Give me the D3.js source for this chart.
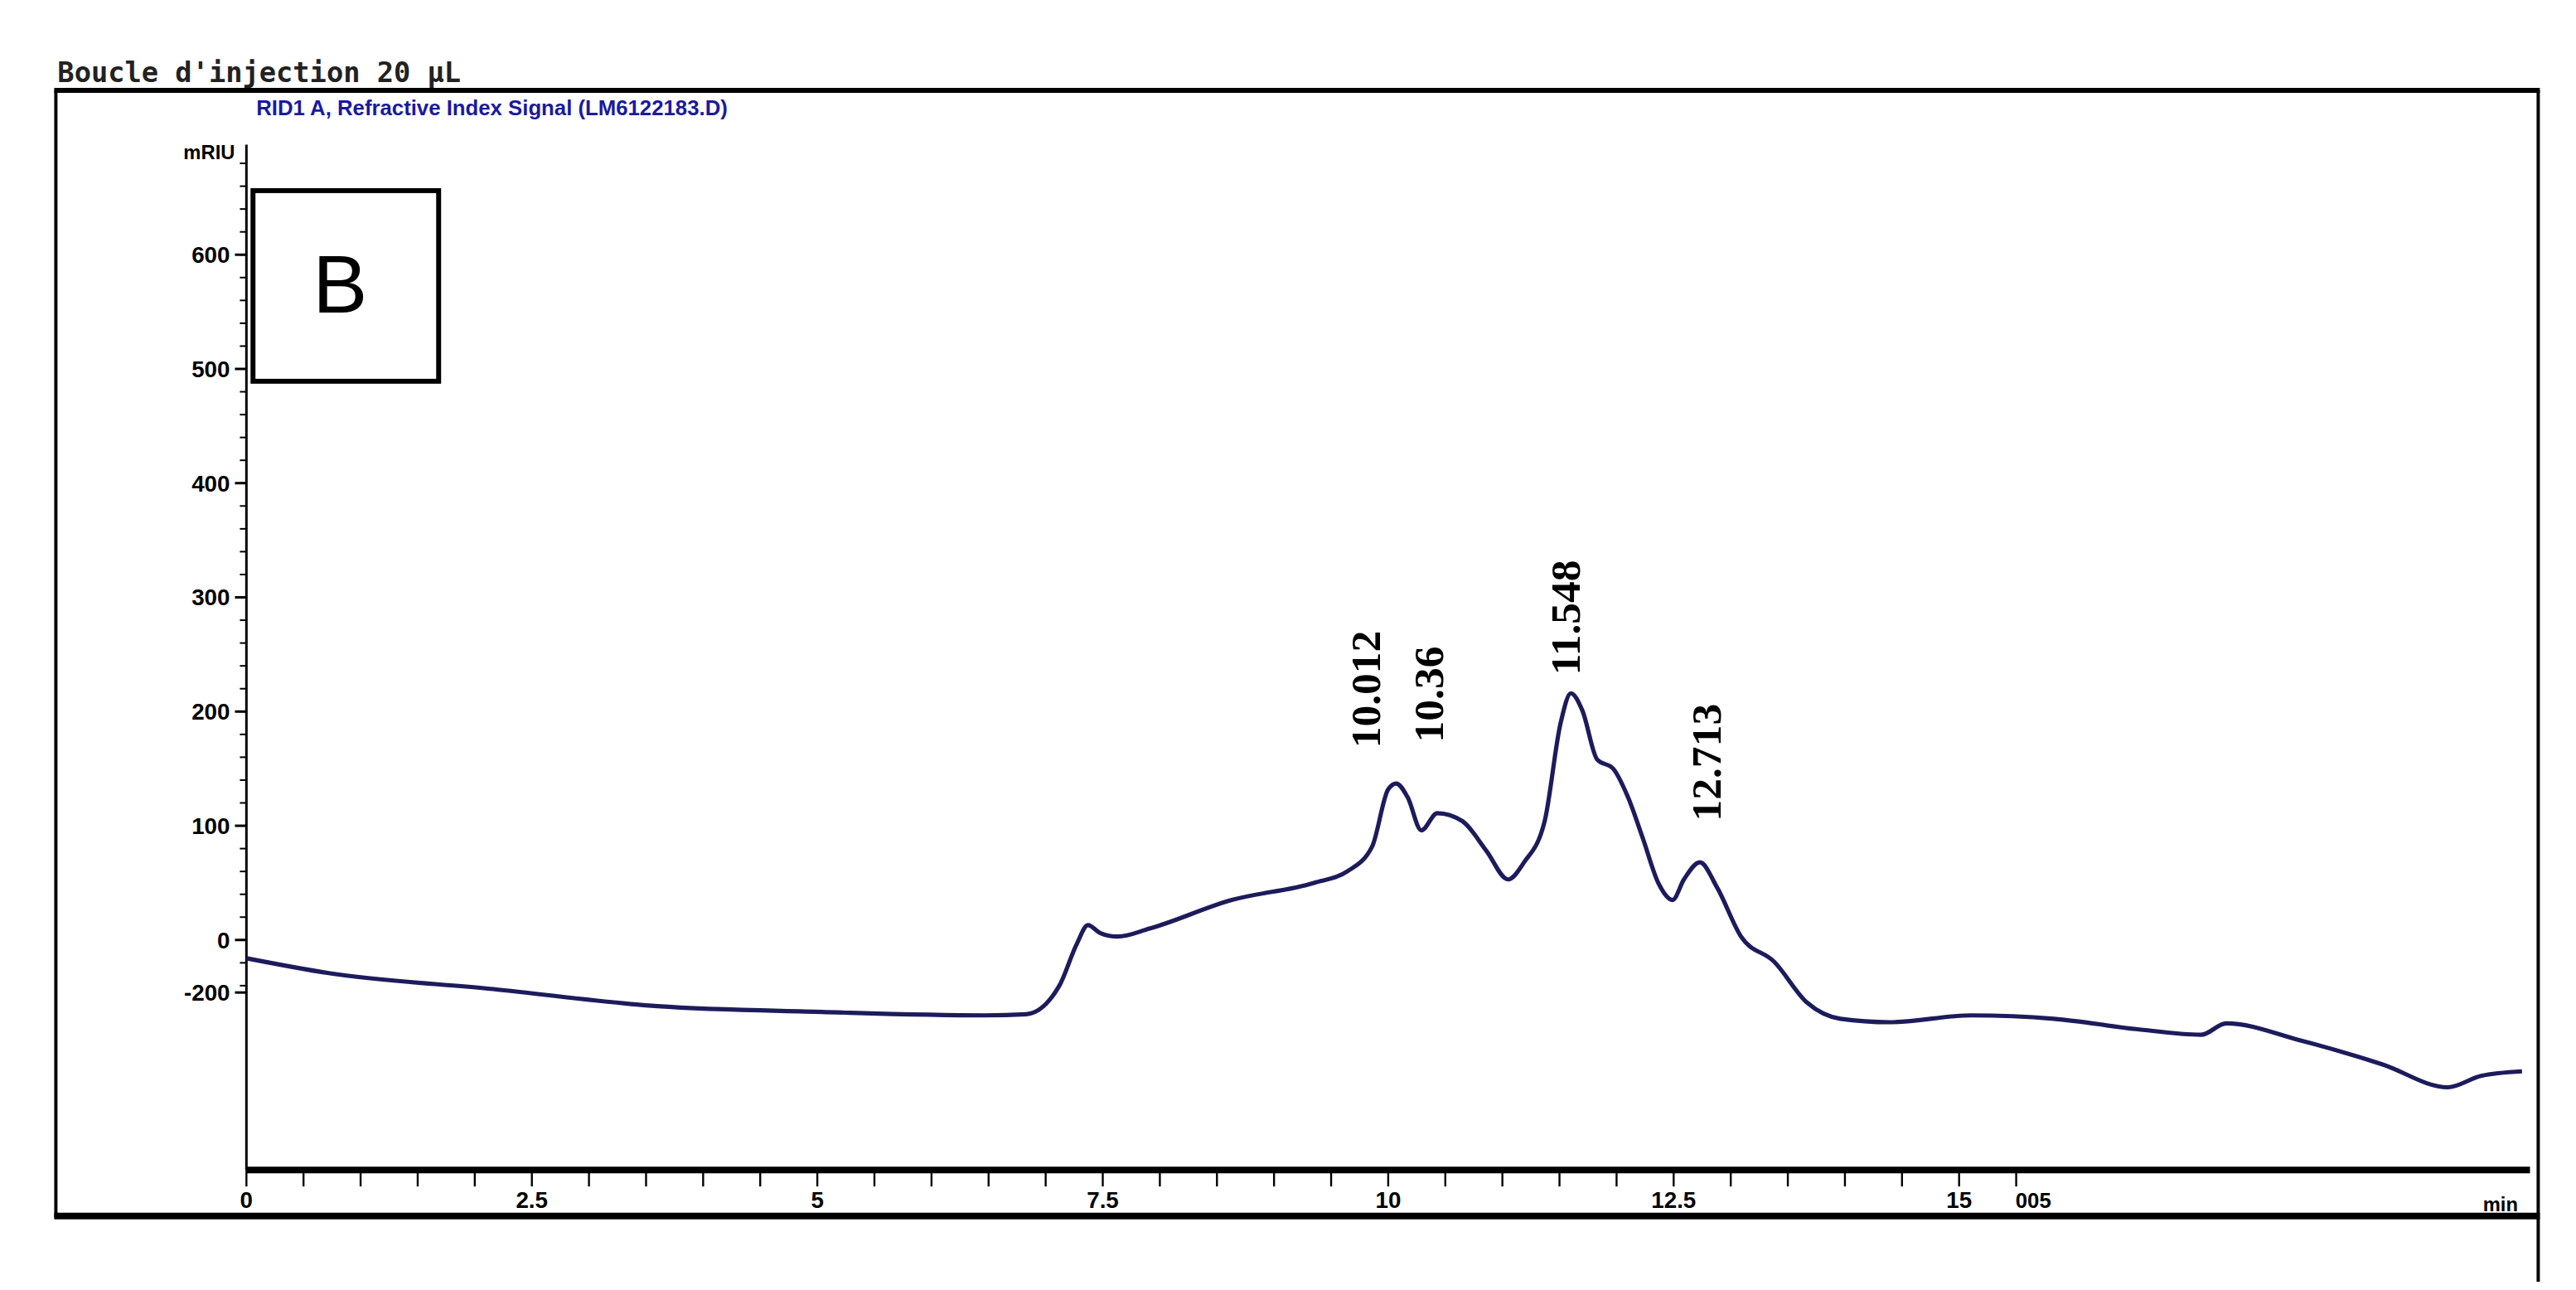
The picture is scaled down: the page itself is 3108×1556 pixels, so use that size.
<!DOCTYPE html>
<html><head><meta charset="utf-8">
<script src="https://cdn.jsdelivr.net/npm/d3@7"></script>
<style>body{margin:0;background:#fff}</style>
</head><body>
<svg id="chart" width="3108" height="1556" viewBox="0 0 1568 785"></svg>
<script>
// retention time (min) and signal (mRIU)
var times = [0,0.72,2.16,3.6,5.04,6.47,6.83,7.12,7.27,7.37,7.48,7.63,7.91,8.63,9.35,9.64,9.86,10.0,10.07,10.17,10.29,10.43,10.65,10.86,11.05,11.19,11.37,11.51,11.6,11.7,11.83,11.97,12.1,12.23,12.37,12.49,12.59,12.73,12.88,13.09,13.38,13.67,13.96,14.39,15.11,15.83,16.55,17.12,17.34,17.99,18.71,19.28,19.57,19.93];
var signal = [-16,-29,-43,-58,-63,-66,-65,-40,-4,13,6,3,10,35,50,60,82,132,137,125,96,111,104,78,53,68,104,190,216,201,158,150,125,89,49,35,53,68,46,3,-19,-55,-69,-72,-66,-69,-78,-83,-73,-88,-109,-129,-119,-115];
var peakTimes = [9.8, 10.35, 11.548, 12.78];
var peakLabels = ["10.012", "10.36", "11.548", "12.713"];
var peakTops = [168, 173, 232, 104];
var xTicks = [0, 2.5, 5, 7.5, 10, 12.5, 15];
var xTickLabels = ["0", "2.5", "5", "7.5", "10", "12.5", "15"];
var yTicks = [-46, 0, 100, 200, 300, 400, 500, 600];
var yTickLabels = ["-200", "0", "100", "200", "300", "400", "500", "600"];

var svg = d3.select("#chart");
var x = d3.scaleLinear().domain([0, 20]).range([150, 1540]);
var y = d3.scaleLinear().domain([0, 600]).range([572, 155]);

// frame
svg.append("line").attr("x1", 33).attr("x2", 1546).attr("y1", 55).attr("y2", 55).attr("stroke", "#000").attr("stroke-width", 3);
svg.append("line").attr("x1", 34).attr("x2", 34).attr("y1", 55).attr("y2", 741).attr("stroke", "#000").attr("stroke-width", 2);
svg.append("line").attr("x1", 1545).attr("x2", 1545).attr("y1", 55).attr("y2", 780).attr("stroke", "#000").attr("stroke-width", 2);
svg.append("line").attr("x1", 33).attr("x2", 1546).attr("y1", 740).attr("y2", 740).attr("stroke", "#000").attr("stroke-width", 4);

svg.append("text").attr("x", 35).attr("y", 50).attr("font-family", "DejaVu Sans Mono").attr("font-size", 17)
    .attr("font-weight", "bold").attr("fill", "#222").text("Boucle d'injection    20 µL");
svg.append("text").attr("x", 156).attr("y", 70).attr("font-family", "Liberation Sans").attr("font-size", 13)
    .attr("font-weight", "bold").attr("fill", "#1a1aa0").text("RID1 A, Refractive Index Signal (LM6122183.D)");

// y axis
svg.append("line").attr("x1", 150).attr("x2", 150).attr("y1", 88).attr("y2", 712).attr("stroke", "#000").attr("stroke-width", 1.5);
svg.selectAll(".ym").data(d3.range(-40, 700, 20)).enter().append("line")
    .attr("x1", 146).attr("x2", 150).attr("y1", function(d) { return y(d); }).attr("y2", function(d) { return y(d); })
    .attr("stroke", "#000").attr("stroke-width", 1);
svg.selectAll(".yt").data(yTicks).enter().append("line")
    .attr("x1", 143).attr("x2", 150).attr("y1", function(d) { return y(d); }).attr("y2", function(d) { return y(d); })
    .attr("stroke", "#000").attr("stroke-width", 1.5);
svg.selectAll(".yl").data(yTicks).enter().append("text")
    .attr("x", 140).attr("y", function(d) { return y(d) + 5; }).attr("text-anchor", "end")
    .attr("font-family", "Liberation Sans Narrow, Liberation Sans").attr("font-size", 14).attr("font-weight", "bold")
    .text(function(d, i) { return yTickLabels[i]; });
svg.append("text").attr("x", 143).attr("y", 97).attr("text-anchor", "end").attr("font-family", "Liberation Sans")
    .attr("font-size", 12).attr("font-weight", "bold").text("mRIU");

// x axis
svg.append("line").attr("x1", 150).attr("x2", 1540).attr("y1", 712).attr("y2", 712).attr("stroke", "#000").attr("stroke-width", 4);
svg.selectAll(".xm").data(d3.range(0, 15.6, 0.5)).enter().append("line")
    .attr("x1", function(d) { return x(d); }).attr("x2", function(d) { return x(d); })
    .attr("y1", 712).attr("y2", 722).attr("stroke", "#000").attr("stroke-width", 1.2);
svg.selectAll(".xl").data(xTicks).enter().append("text")
    .attr("x", function(d) { return x(d); }).attr("y", 735).attr("text-anchor", "middle")
    .attr("font-family", "Liberation Sans Narrow, Liberation Sans").attr("font-size", 14).attr("font-weight", "bold")
    .text(function(d, i) { return xTickLabels[i]; });
svg.append("text").attr("x", x(15.65)).attr("y", 735).attr("text-anchor", "middle").attr("font-family", "Liberation Sans")
    .attr("font-size", 13).attr("font-weight", "bold").text("005");
svg.append("text").attr("x", 1522).attr("y", 737).attr("text-anchor", "middle").attr("font-family", "Liberation Sans")
    .attr("font-size", 12).attr("font-weight", "bold").text("min");

// B panel box
svg.append("rect").attr("x", 154).attr("y", 116).attr("width", 113).attr("height", 116)
    .attr("fill", "none").attr("stroke", "#000").attr("stroke-width", 3);
svg.append("text").attr("x", 207).attr("y", 190).attr("text-anchor", "middle").attr("font-family", "Liberation Sans")
    .attr("font-size", 50).text("B");

// trace
var line = d3.line().x(function(d, i) { return x(times[i]); }).y(function(d) { return y(d); }).curve(d3.curveMonotoneX);
svg.append("path").datum(signal).attr("d", line).attr("fill", "none").attr("stroke", "#1c1c5c").attr("stroke-width", 2.6);

// peak labels
svg.selectAll(".pl").data(peakTimes).enter().append("text")
    .attr("transform", function(d, i) { return "translate(" + (x(d) + 9) + "," + y(peakTops[i]) + ") rotate(-90)"; })
    .attr("font-family", "Liberation Serif").attr("font-size", 26).attr("font-weight", "bold")
    .text(function(d, i) { return peakLabels[i]; });
</script>
</body></html>
